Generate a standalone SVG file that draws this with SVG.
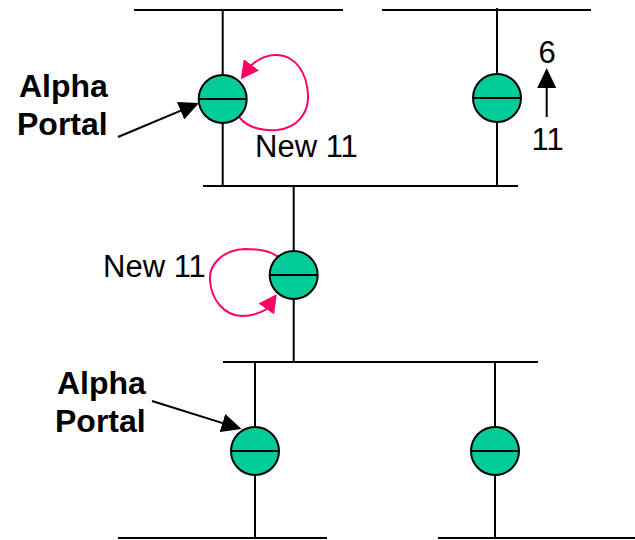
<svg xmlns="http://www.w3.org/2000/svg" width="635" height="540" viewBox="0 0 635 540">
<style>
.bus{stroke:#000;stroke-width:2;fill:none}
.portal circle{fill:#00CC99;stroke:#000;stroke-width:2}
.portal line{stroke:#000;stroke-width:2}
.arr{stroke:#000;stroke-width:2;fill:none}
.loop{stroke:#FF0066;stroke-width:2;fill:none}
.lbl{font-family:"Liberation Sans",Arial,sans-serif;font-size:31px;fill:#000}
.blbl{font-family:"Liberation Sans",Arial,sans-serif;font-size:32px;font-weight:bold;fill:#000}
</style>
<defs>
<marker id="blk" viewBox="0 0 20 19" refX="12" refY="9.5" markerWidth="20" markerHeight="19" markerUnits="userSpaceOnUse" orient="auto">
<path d="M0,0 L20,9.5 L0,19 z" fill="#000"/>
</marker>
<marker id="pink" viewBox="0 0 18 19" refX="10" refY="9.5" markerWidth="18" markerHeight="19" markerUnits="userSpaceOnUse" orient="auto">
<path d="M0,0 L18,9.5 L0,19 z" fill="#FF0066"/>
</marker>
</defs>
<g id="connectors">
<line class="bus" x1="134" y1="10" x2="343" y2="10"/>
<line class="bus" x1="382" y1="10" x2="591" y2="10"/>
<line class="bus" x1="222.7" y1="10" x2="222.7" y2="186"/>
<line class="bus" x1="497" y1="8" x2="497" y2="186"/>
<line class="bus" x1="203" y1="186" x2="518" y2="186"/>
<line class="bus" x1="293.7" y1="186" x2="293.7" y2="362"/>
<line class="bus" x1="223" y1="362" x2="538" y2="362"/>
<line class="bus" x1="255" y1="362" x2="255" y2="538"/>
<line class="bus" x1="495" y1="362" x2="495" y2="538"/>
<line class="bus" x1="118" y1="538" x2="327" y2="538"/>
<line class="bus" x1="438" y1="538" x2="635" y2="538"/>
<line class="arr" x1="118" y1="137" x2="191.6" y2="106.1" marker-end="url(#blk)"/>
<line class="arr" x1="152" y1="401" x2="233.9" y2="426.6" marker-end="url(#blk)"/>
<line class="arr" x1="546.7" y1="117" x2="546.7" y2="76" marker-end="url(#blk)"/>
<path class="loop" d="M239,117 C248,128 262,131 277,130 C298,128 309,112 308,95 C307,72 295,56 278,55 C265,54 257,60 251,65.5 L245.5,72.9" marker-end="url(#pink)"/>
<path class="loop" d="M278,257 C270,250 258,249 245,249 C222,250 209,265 210,280 C211,300 225,316 242,316 C252,316 260,313 265.8,309.7 L272.1,300.8" marker-end="url(#pink)"/>
</g>
<g id="portal1" class="portal"><circle cx="222.7" cy="99" r="24"/><line x1="198.7" y1="99" x2="246.7" y2="99"/></g>
<g id="portal2" class="portal"><circle cx="497" cy="98" r="24"/><line x1="473" y1="98" x2="521" y2="98"/></g>
<g id="portal3" class="portal"><circle cx="293.7" cy="275" r="24"/><line x1="269.7" y1="275" x2="317.7" y2="275"/></g>
<g id="portal4" class="portal"><circle cx="255" cy="451" r="24"/><line x1="231" y1="451" x2="279" y2="451"/></g>
<g id="portal5" class="portal"><circle cx="495" cy="451" r="24"/><line x1="471" y1="451" x2="519" y2="451"/></g>
<g id="labels">
<text class="blbl" x="19" y="97">Alpha</text>
<text class="blbl" x="17" y="135">Portal</text>
<text class="blbl" x="57" y="394">Alpha</text>
<text class="blbl" x="55" y="432">Portal</text>
<text class="lbl" x="255" y="157">New 11</text>
<text class="lbl" x="103" y="277">New 11</text>
<text class="lbl" x="538.5" y="63">6</text>
<text class="lbl" x="531.5" y="150">11</text>
</g>
</svg>
